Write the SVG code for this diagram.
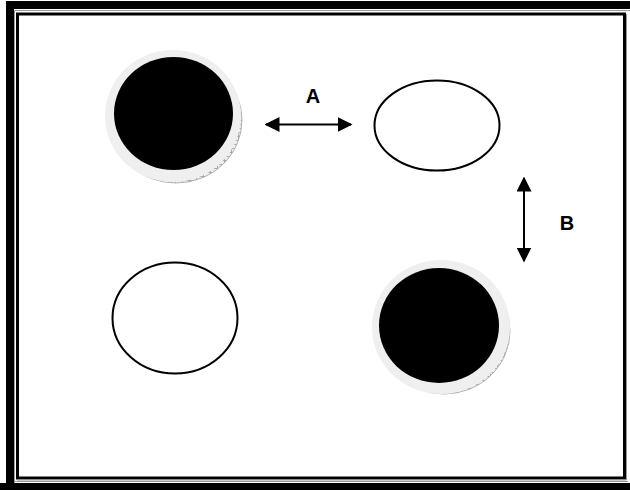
<svg xmlns="http://www.w3.org/2000/svg" width="630" height="490" viewBox="0 0 630 490">
  <defs>
    <style>
      .lbl { font-family: "Liberation Sans", Arial, sans-serif; font-weight: bold; font-size: 20px; fill: #000; text-anchor: middle; }
      .open { fill: #fff; stroke: #000; stroke-width: 2; }
      .ring { fill: #efefef; }
      .face { fill: #000; }
      .rim { fill: url(#hatch); stroke: #b0b0b0; stroke-width: 1; }
      .conn { stroke: #000; stroke-width: 2; fill: none; marker-start: url(#ah); marker-end: url(#ah); }
    </style>
    <pattern id="hatch" width="7" height="4" patternUnits="userSpaceOnUse">
      <rect width="7" height="4" fill="#eeeeee"/>
      <path d="M0 0.5H7M0.5 0V4" stroke="#999" stroke-width="0.8"/>
    </pattern>
    <marker id="ah" viewBox="0 0 10 10" refX="9" refY="5" markerWidth="7.5" markerHeight="7.5" markerUnits="strokeWidth" orient="auto-start-reverse">
      <path d="M0 0L10 5L0 10Z" fill="#000"/>
    </marker>
  </defs>

  <g id="frame">
    <rect x="0" y="0" width="630" height="490" fill="#fff"/>
    <path d="M10 490V5H630" fill="none" stroke="#000" stroke-width="8"/>
    <path d="M14.5 490V10.5H630" fill="none" stroke="#999" stroke-width="1"/>
    <path d="M0 486.5H630" stroke="#000" stroke-width="7"/>
    <path d="M15 481.5H628" stroke="#999" stroke-width="1"/>
    <rect x="17.5" y="14" width="607" height="464" fill="none" stroke="#000" stroke-width="3"/>
    <path d="M626.5 14V480H17" fill="none" stroke="#999" stroke-width="1"/>
  </g>

  <g id="coin-top-left">
    <ellipse class="rim" cx="176" cy="120" rx="66" ry="63"/>
    <ellipse class="ring" cx="173" cy="116" rx="68" ry="66"/>
    <ellipse class="face" cx="173.5" cy="113.5" rx="59.5" ry="56.5"/>
  </g>

  <g id="ellipse-top-right">
    <ellipse class="open" cx="437" cy="125.5" rx="62.5" ry="45"/>
  </g>

  <g id="ellipse-bottom-left">
    <ellipse class="open" cx="175" cy="318" rx="62.5" ry="55.5"/>
  </g>

  <g id="coin-bottom-right">
    <ellipse class="rim" cx="444" cy="331" rx="66" ry="63"/>
    <ellipse class="ring" cx="441" cy="327" rx="69" ry="67"/>
    <ellipse class="face" cx="439" cy="325.5" rx="60" ry="57.5"/>
  </g>

  <g id="connectors">
    <line class="conn" x1="266" y1="124.5" x2="351" y2="124.5"/>
    <line class="conn" x1="524" y1="178" x2="524" y2="261"/>
  </g>

  <g id="labels">
    <text class="lbl" x="313" y="103">A</text>
    <text class="lbl" x="567" y="230">B</text>
  </g>
</svg>
